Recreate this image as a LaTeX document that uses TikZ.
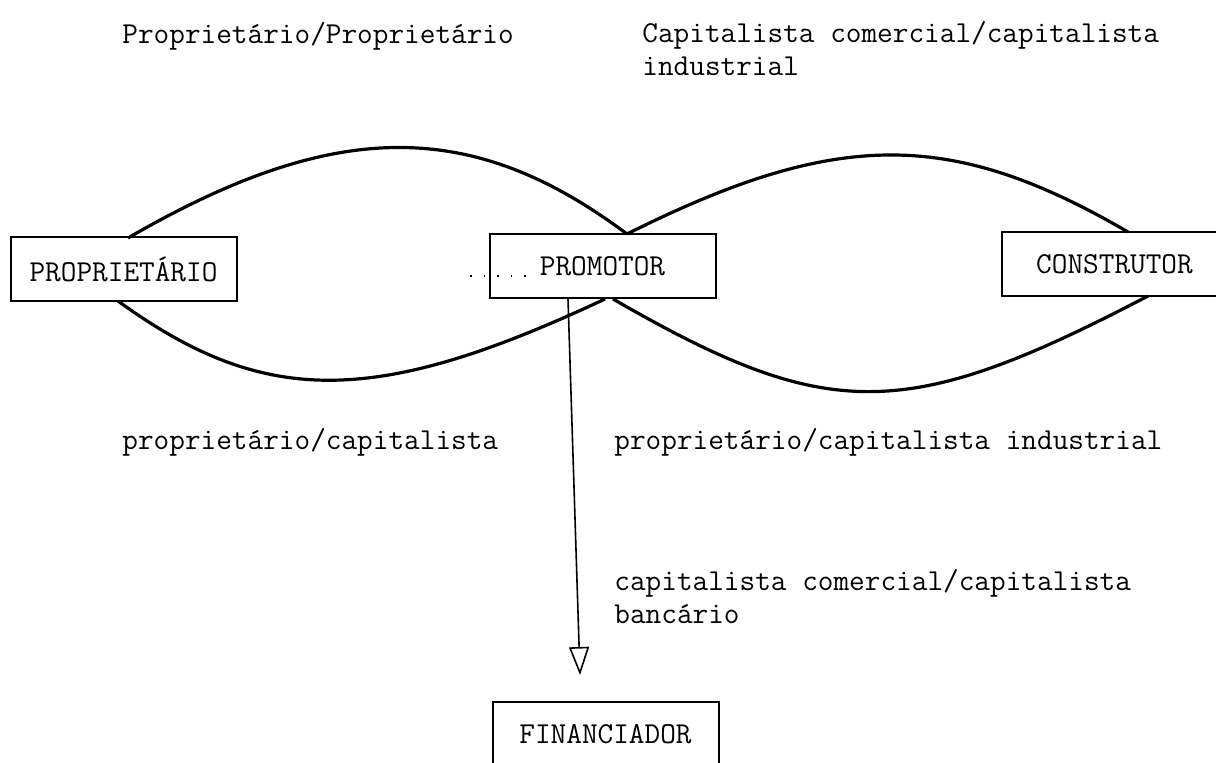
\documentclass[tikz,border=0pt]{standalone}
\usepackage{fontspec}
\usetikzlibrary{arrows.meta}
\newcommand\tyfont{\fontsize{15.2}{16.5}\selectfont\ttfamily}
\begin{document}
\begin{tikzpicture}[x=0.5pt,y=-0.5pt,
  box/.style={draw, line width=1pt, minimum width=113pt, minimum height=32pt, inner sep=0pt, font=\tyfont},
  lobe/.style={line width=1.6pt},
  lbl/.style={anchor=base west, inner sep=0pt, font=\tyfont, align=left}]
\useasboundingbox (0,0) rectangle (1216,763);
\clip (0,0) rectangle (1216,763);
% boxes
\node[box] (prop) at (123.5,269.5) {PROPRIET\'ARIO};
\node[box] (prom) at (602.5,266.5) {PROMOTOR};
\node[box] (cons) at (1114.5,264) {CONSTRUTOR};
\node[box] (fin) at (605.5,734) {FINANCIADOR};
% labels (base = baseline of the last line)
\node[lbl] (t1) at (122,44) {Proprietário/Proprietário};
\node[lbl] (t2) at (642,76) {Capitalista comercial/capitalista\\industrial};
\node[lbl] (t3) at (122,450) {proprietário/capitalista};
\node[lbl] (t4) at (614,450) {proprietário/capitalista industrial};
\node[lbl] (t5) at (614,624) {capitalista comercial/capitalista\\bancário};
% lobe end points on the boxes
\coordinate (pUL) at (128,238);
\coordinate (pLL) at (118,301);
\coordinate (mU) at (627,234);
\coordinate (mLa) at (605,299);
\coordinate (mLb) at (613,299);
\coordinate (cU) at (1128,232);
\coordinate (cL) at (1148,296);
% left lobe
\draw[lobe] (pUL) .. controls (335,118) and (472,118) .. (mU);
\draw[lobe] (pLL) .. controls (264,407) and (375,407) .. (mLa);
% right lobe
\draw[lobe] (mU) .. controls (837,129) and (951,129) .. (cU);
\draw[lobe] (mLb) .. controls (828,423) and (905,423) .. (cL);
% dotted trace
\coordinate (d1) at (470,276);
\coordinate (d2) at (535,276);
\draw[line width=0.8pt, dash pattern=on 0.8pt off 6pt] (d1) -- (d2);
% arrow to financiador
\coordinate (a1) at (568,299);
\coordinate (a2) at (580,675);
\draw[line width=0.8pt, -{Triangle[open, length=14pt, width=10pt]}] (a1) -- (a2);
\end{tikzpicture}
\end{document}
